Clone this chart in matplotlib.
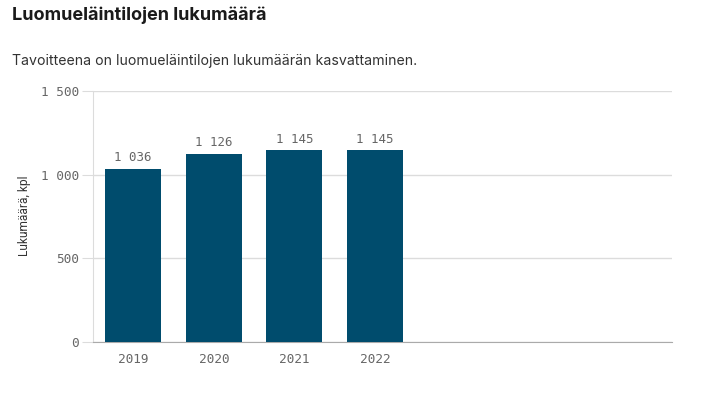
import matplotlib
matplotlib.use('Agg')
import matplotlib.pyplot as plt
from matplotlib.ticker import FuncFormatter

years = ['2019', '2020', '2021', '2022']
counts = [1036, 1126, 1145, 1145]

bar_color = '#004c6d'
grid_color = '#dcdcdc'
tick_color = '#666666'
mono = ['DejaVu Sans Mono']


def fmt(v, pos=None):
    return f'{int(v):,}'.replace(',', '\u2009')


fig = plt.figure(figsize=(7.06, 3.96), dpi=100)
ax = fig.add_axes([93 / 706, 1 - 342 / 396, (672 - 93) / 706, (342 - 91) / 396])

x = list(range(len(years)))
bars = ax.bar(x, counts, width=0.7, color=bar_color, zorder=3)
for xi, v in zip(x, counts):
    ax.text(xi, v + 25, fmt(v), ha='center', va='bottom', fontsize=9,
            family=mono, color=tick_color)

ax.set_xlim(-0.5, (672 - 93) / 80.5 - 0.5)
ax.set_ylim(0, 1500)
ax.set_yticks([0, 500, 1000, 1500])
ax.yaxis.set_major_formatter(FuncFormatter(fmt))
ax.set_xticks(x)
ax.set_xticklabels(years)

for lab in ax.get_xticklabels() + ax.get_yticklabels():
    lab.set_family(mono)
    lab.set_fontsize(9.2)
    lab.set_color(tick_color)

ax.tick_params(axis='y', length=8, color=grid_color, pad=2)
ax.tick_params(axis='x', length=0, pad=8)
ax.grid(axis='y', color=grid_color, linewidth=1, zorder=0)

for s in ['top', 'right']:
    ax.spines[s].set_visible(False)
ax.spines['left'].set_color(grid_color)
ax.spines['bottom'].set_color('#aaaaaa')

fig.text(25 / 706, 1 - 216 / 396, 'Lukumäärä, kpl', fontsize=8.6, color='#333333',
         rotation=90, ha='center', va='center', family='Roboto')

fig.text(12 / 706, 1 - 15 / 396, 'Luomueläintilojen lukumäärä', fontsize=13,
         fontweight='bold', color='#1a1a1a', va='center', family='Inter')
fig.text(12 / 706, 1 - 61 / 396, 'Tavoitteena on luomueläintilojen lukumäärän kasvattaminen.',
         fontsize=10.2, color='#333333', va='center', family='Inter')

fig.savefig('out.png', dpi=100)
